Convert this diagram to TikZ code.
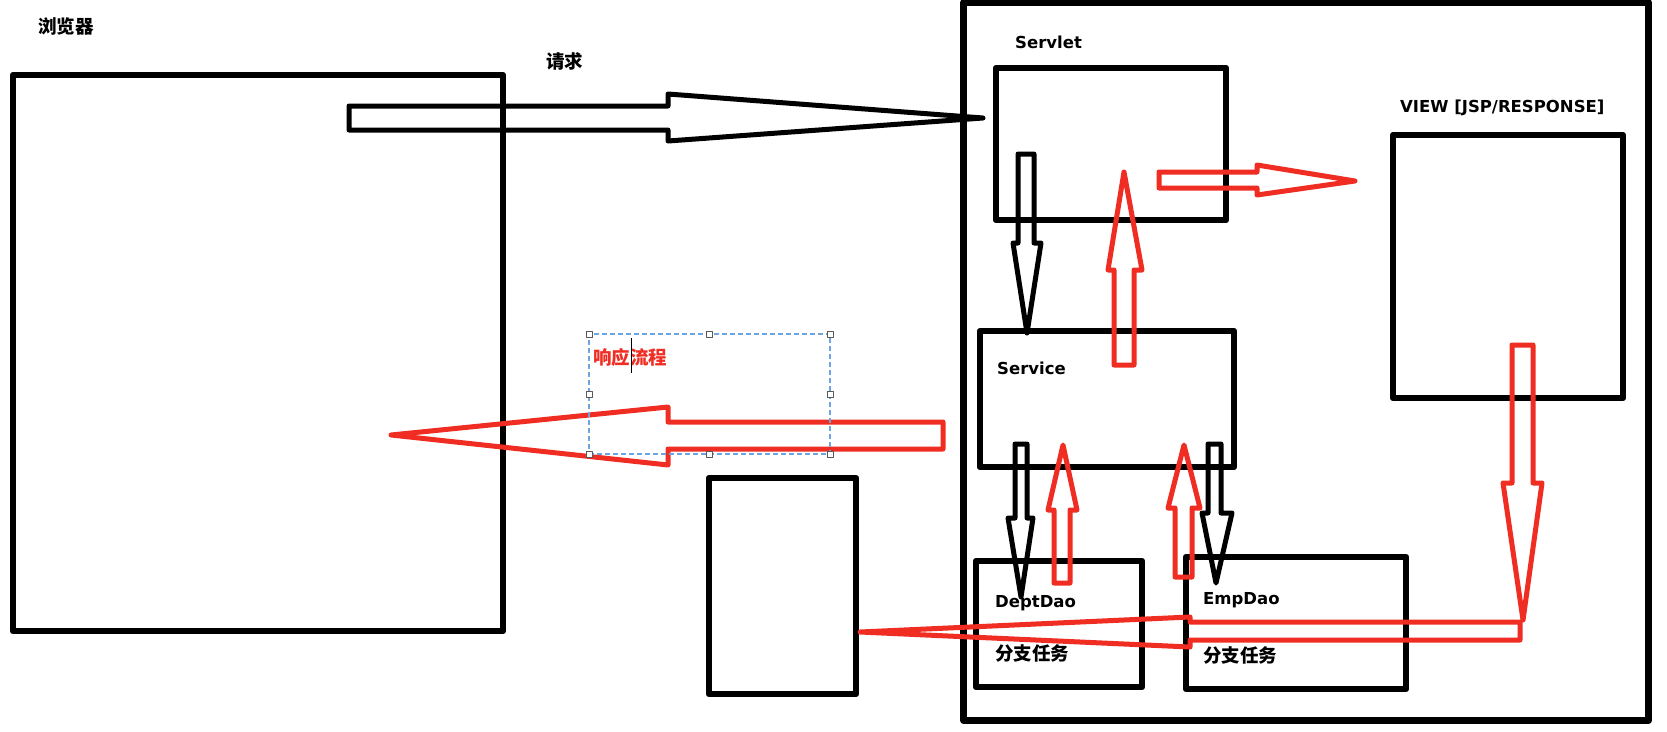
\documentclass[tikz,border=0pt]{standalone}
\usepackage{fontspec}
\setmainfont{DejaVu Sans}
\newfontfamily\cjk{Noto Sans CJK SC}
\definecolor{redline}{RGB}{240,45,35}
\definecolor{selblue}{RGB}{110,165,220}
\begin{document}
\begin{tikzpicture}[x=1pt,y=-1pt,line join=round,
  box/.style={draw=black,line width=6.5pt,inner sep=0pt,outer sep=0pt},
  blk/.style={draw=black,line width=5pt},
  rdd/.style={draw=redline,line width=5pt},
  lbl/.style={anchor=west,inner sep=0pt,font=\fontsize{16.5}{18}\selectfont\bfseries},
  cjklbl/.style={anchor=west,inner sep=0pt,font=\cjk\fontsize{18.5}{20}\selectfont\bfseries},
  handle/.style={draw=gray!70!black,fill=white,line width=1pt,minimum size=6pt,inner sep=0pt}]
\useasboundingbox[fill=white] (0,0) rectangle (1667,731);

% boxes
\node[box,minimum width=490pt,minimum height=556pt] (browser) at (258,353) {};
\node[box,minimum width=147pt,minimum height=216pt] (small) at (782.5,586) {};
\node[box,minimum width=685pt,minimum height=718pt] (container) at (1306,361.5) {};
\node[box,minimum width=230pt,minimum height=152pt] (servlet) at (1111,144) {};
\node[box,minimum width=230pt,minimum height=263pt] (view) at (1508,266.5) {};
\node[box,minimum width=254pt,minimum height=136pt] (service) at (1107,399) {};
\node[box,minimum width=166pt,minimum height=126pt] (dept) at (1059,624) {};
\node[box,minimum width=220pt,minimum height=132pt] (emp) at (1296,623) {};

% labels
\node[cjklbl] (tbrowser) at (38,26) {浏览器};
\node[cjklbl] (treq) at (546,61) {请求};
\node[lbl] (tservlet) at (1015,42) {Servlet};
\node[lbl] (tview) at (1400,108) {VIEW [JSP/RESPONSE]};
\node[lbl] (tservice) at (997,368) {Service};
\node[lbl] (tdept) at (995,603) {DeptDao};
\node[cjklbl] (tdeptb) at (995,653) {分支任务};
\node[lbl] (temp) at (1203,600) {EmpDao};
\node[cjklbl] (tempb) at (1203,655) {分支任务};
\node[cjklbl,text=redline] (tresp) at (593,357) {响应流程};

% request arrow (black)
\draw[blk] (349,106) -- (668,106) -- (668,94) -- (983,118) -- (668,141) -- (668,130) -- (349,130) -- cycle;
% response arrow (red)
\draw[rdd] (943,422) -- (668,422) -- (668,407) -- (391,435) -- (668,465) -- (668,449) -- (943,449) -- cycle;
% servlet -> service (black down)
\draw[blk] (1018,154) -- (1034,154) -- (1034,243) -- (1041,243) -- (1027,333) -- (1013,243) -- (1018,243) -- cycle;
% service -> servlet (red up)
\draw[rdd] (1114,365) -- (1134,365) -- (1134,270) -- (1142,270) -- (1124,172) -- (1108,270) -- (1114,270) -- cycle;
% servlet -> view (red right)
\draw[rdd] (1159,172) -- (1257,172) -- (1257,165) -- (1355,181) -- (1257,195) -- (1257,188) -- (1159,188) -- cycle;
% service -> dept (black down)
\draw[blk] (1015,444) -- (1027,444) -- (1027,518) -- (1033,518) -- (1021,597) -- (1008,518) -- (1015,518) -- cycle;
% dept -> service (red up)
\draw[rdd] (1054,583) -- (1070,583) -- (1070,510) -- (1077,510) -- (1063,445) -- (1048,510) -- (1054,510) -- cycle;
% emp -> service (red up)
\draw[rdd] (1175,577) -- (1192,577) -- (1192,508) -- (1200,508) -- (1184,445) -- (1168,508) -- (1175,508) -- cycle;
% service -> emp (black down)
\draw[blk] (1208,444) -- (1221,444) -- (1221,513) -- (1232,513) -- (1216,583) -- (1202,513) -- (1208,513) -- cycle;
% view -> down (red)
\draw[rdd] (1512,345) -- (1533,345) -- (1533,483) -- (1542,483) -- (1523,620) -- (1503,483) -- (1512,483) -- cycle;
% long red arrow to small box
\draw[rdd] (1520,622) -- (1190,622) -- (1190,617) -- (860,632) -- (1190,647) -- (1190,640) -- (1520,640) -- cycle;

% selection frame
\node[draw=selblue,line width=1.2pt,dash pattern=on 5pt off 3pt,minimum width=241pt,minimum height=120pt,inner sep=0pt] (sel) at (709.5,394) {};
\foreach \x/\y [count=\i] in {589/334,709.5/334,830/334,589/394,830/394,589/454,709.5/454,830/454}
  \node[handle] (h\i) at (\x,\y) {};
\coordinate (curtop) at (631,338);
\coordinate (curbot) at (631,373);
\draw[line width=1pt] (curtop) -- (curbot);
\end{tikzpicture}
\end{document}
